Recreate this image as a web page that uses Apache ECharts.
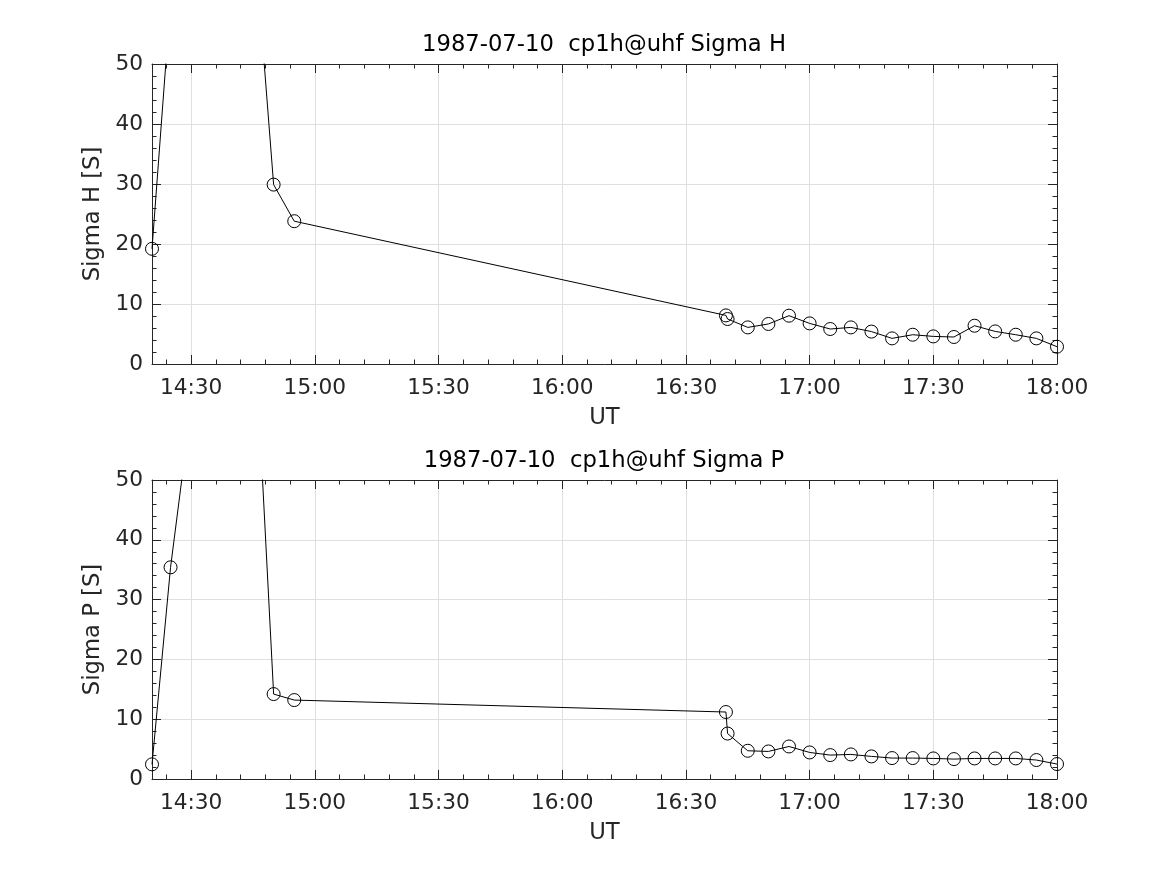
<!DOCTYPE html>
<html>
<head>
<meta charset="utf-8">
<script src="https://cdn.jsdelivr.net/npm/echarts@6/dist/echarts.min.js"></script>
<style>
html,body{margin:0;padding:0;background:#fff;}
#c{width:1167px;height:875px;}
</style>
</head>
<body>
<div id="c"></div>
<script>
// Time in minutes since midnight UT
const times = [860.5, 865, 870, 875, 880, 885, 890, 895, 999.7, 1000.1, 1005, 1010, 1015, 1020, 1025, 1030, 1035, 1040, 1045, 1050, 1055, 1060, 1065, 1070, 1075, 1080];
const sigmaH = [19.2, 60.6, 95, 120, 105, 74, 29.9, 23.8, 8.1, 7.5, 6.1, 6.67, 8.05, 6.77, 5.83, 6.1, 5.4, 4.27, 4.88, 4.6, 4.5, 6.38, 5.43, 4.88, 4.27, 2.88];
const sigmaP = [2.45, 35.4, 62.3, 90, 100, 80.8, 14.2, 13.2, 11.2, 7.6, 4.72, 4.61, 5.44, 4.44, 4.0, 4.11, 3.78, 3.5, 3.5, 3.44, 3.33, 3.44, 3.44, 3.44, 3.17, 2.5];
const majorTicks = [870, 900, 930, 960, 990, 1020, 1050, 1080];
const minorTicks = [864, 876, 882, 888, 894, 906, 912, 918, 924, 936, 942, 948, 954, 966, 972, 978, 984, 996, 1002, 1008, 1014, 1026, 1032, 1038, 1044, 1056, 1062, 1068, 1074];
const titles = ['1987-07-10  cp1h@uhf Sigma H', '1987-07-10  cp1h@uhf Sigma P'];
const yNames = ['Sigma H [S]', 'Sigma P [S]'];
const xName = 'UT';
const xMin = 860.5, xMax = 1080, yMin = 0, yMax = 50, yStep = 10;

const TXT = '#262626';
const GRIDC = '#dfdfdf';
const FONT = 'DejaVu Sans';

function fmt(v){
  const h = Math.floor(v/60), m = Math.round(v - h*60);
  return (h<10?'0':'')+h+':'+(m<10?'0':'')+m;
}

const grids = [
  {left:152, right:110, top:64, height:300},
  {left:152, right:110, top:480, height:299}
];

const xAxis = [], yAxis = [], series = [], title = [];
const seriesData = [sigmaH, sigmaP];

grids.forEach((g, gi) => {
  const base = xAxis.length;
  xAxis.push({
    type:'value', gridIndex:gi, min:xMin, max:xMax, position:'bottom',
    name: xName, nameLocation:'middle', nameGap:43,
    nameTextStyle:{color:TXT, fontSize:22.7, fontFamily:FONT},
    axisLine:{show:true, onZero:false, lineStyle:{color:TXT, width:1}},
    axisTick:{show:true, inside:true, length:9, customValues:majorTicks, lineStyle:{color:TXT}},
    axisLabel:{show:true, customValues:majorTicks, formatter:fmt, color:TXT, fontSize:21.7, fontFamily:FONT, margin:13},
    splitLine:{show:true, lineStyle:{color:GRIDC, width:1}}
  });
  xAxis.push({
    type:'value', gridIndex:gi, min:xMin, max:xMax, position:'bottom',
    axisLine:{show:false, onZero:false},
    axisTick:{show:true, inside:true, length:4.5, customValues:minorTicks, lineStyle:{color:TXT}},
    axisLabel:{show:false},
    splitLine:{show:false}
  });
  xAxis.push({
    type:'value', gridIndex:gi, min:xMin, max:xMax, position:'top',
    axisLine:{show:true, onZero:false, lineStyle:{color:TXT, width:1}},
    axisTick:{show:true, inside:true, length:9, customValues:majorTicks, lineStyle:{color:TXT}},
    axisLabel:{show:false},
    splitLine:{show:false}
  });
  xAxis.push({
    type:'value', gridIndex:gi, min:xMin, max:xMax, position:'top',
    axisLine:{show:false, onZero:false},
    axisTick:{show:true, inside:true, length:4.5, customValues:minorTicks, lineStyle:{color:TXT}},
    axisLabel:{show:false},
    splitLine:{show:false}
  });
  const ybase = yAxis.length;
  yAxis.push({
    type:'value', gridIndex:gi, min:yMin, max:yMax, interval:yStep, position:'left',
    name: yNames[gi], nameLocation:'middle', nameGap:30,
    nameTextStyle:{color:TXT, fontSize:22.7, fontFamily:FONT},
    axisLine:{show:true, onZero:false, lineStyle:{color:TXT, width:1}},
    axisTick:{show:true, inside:true, length:9, lineStyle:{color:TXT}},
    minorTick:{show:true, splitNumber:5, length:4.5, lineStyle:{color:TXT}},
    axisLabel:{show:true, color:TXT, fontSize:21.7, fontFamily:FONT, margin:9},
    splitLine:{show:true, lineStyle:{color:GRIDC, width:1}}
  });
  yAxis.push({
    type:'value', gridIndex:gi, min:yMin, max:yMax, interval:yStep, position:'right',
    axisLine:{show:true, onZero:false, lineStyle:{color:TXT, width:1}},
    axisTick:{show:true, inside:true, length:9, lineStyle:{color:TXT}},
    minorTick:{show:true, splitNumber:5, length:4.5, lineStyle:{color:TXT}},
    axisLabel:{show:false},
    splitLine:{show:false}
  });
  title.push({
    text: titles[gi], left: 604, textAlign:'center', top: g.top - 30, padding:0,
    textStyle:{color:'#000', fontSize:22.7, fontWeight:'normal', fontFamily:FONT}
  });
  series.push({
    type:'line', xAxisIndex:base, yAxisIndex:ybase,
    data: times.map((t,i)=>[t, seriesData[gi][i]]),
    symbol:'circle', symbolSize:13, showAllSymbol:true,
    itemStyle:{color:'rgba(0,0,0,0)', borderColor:'#000', borderWidth:1},
    lineStyle:{color:'#000', width:1},
    emphasis:{disabled:true},
    clip:true, silent:true, animation:false
  });
});

const chart = echarts.init(document.getElementById('c'), null, {renderer:'canvas'});
chart.setOption({
  backgroundColor:'#fff',
  animation:false,
  title, grid: grids, xAxis, yAxis, series
});
</script>
</body>
</html>
